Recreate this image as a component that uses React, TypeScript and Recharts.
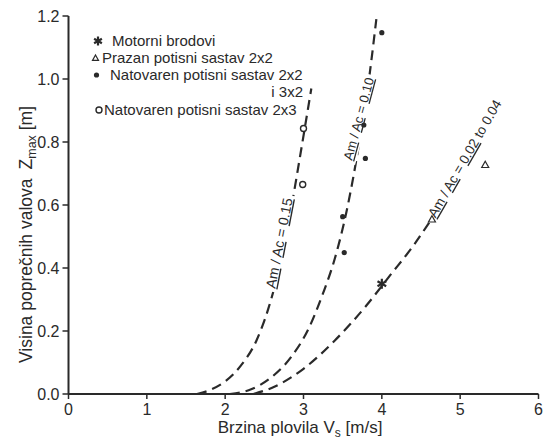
import { ComposedChart, Line, Scatter, XAxis, YAxis, Legend } from "recharts";

const ink = "#2a2a2a";
const font = "'Liberation Sans', Arial, Helvetica, sans-serif";

const xTicks = [0, 1, 2, 3, 4, 5, 6];
const yTicks = [0, 0.2, 0.4, 0.6, 0.8, 1.0, 1.2];

// dashed trend curves (Am/Ac)
const curve015 = [
	{ x: 1.64, y: 0 },
	{ x: 1.8, y: 0.012 },
	{ x: 2.0, y: 0.04 },
	{ x: 2.2, y: 0.09 },
	{ x: 2.4, y: 0.17 },
	{ x: 2.55, y: 0.27 },
	{ x: 2.7, y: 0.41 },
	{ x: 2.85, y: 0.6 },
	{ x: 2.98, y: 0.79 },
	{ x: 3.1, y: 0.97 },
];
const curve010 = [
	{ x: 2.06, y: 0 },
	{ x: 2.3, y: 0.012 },
	{ x: 2.6, y: 0.055 },
	{ x: 2.85, y: 0.12 },
	{ x: 3.05, y: 0.2 },
	{ x: 3.25, y: 0.32 },
	{ x: 3.4, y: 0.43 },
	{ x: 3.55, y: 0.58 },
	{ x: 3.7, y: 0.78 },
	{ x: 3.82, y: 0.97 },
	{ x: 3.93, y: 1.19 },
];
const curve002 = [
	{ x: 2.36, y: 0 },
	{ x: 2.6, y: 0.02 },
	{ x: 3.0, y: 0.08 },
	{ x: 3.4, y: 0.17 },
	{ x: 3.8, y: 0.28 },
	{ x: 4.1, y: 0.375 },
	{ x: 4.4, y: 0.47 },
	{ x: 4.62, y: 0.55 },
];

// measured points
const motorni = [{ x: 4.0, y: 0.35 }];
const prazan2x2 = [
	{ x: 4.64, y: 0.555 },
	{ x: 5.32, y: 0.728 },
];
const natovaren2x2 = [
	{ x: 4.0, y: 1.147 },
	{ x: 3.77, y: 0.854 },
	{ x: 3.79, y: 0.748 },
	{ x: 3.5, y: 0.563 },
	{ x: 3.52, y: 0.449 },
];
const natovaren2x3 = [
	{ x: 3.0, y: 0.843 },
	{ x: 2.99, y: 0.665 },
];

const curveLabels = [
	{ x: 2.75, y: 0.476, angle: -79, value: "0.15", size: 14 },
	{ x: 3.76, y: 0.87, angle: -75, value: "0.10", size: 13 },
	{ x: 5.11, y: 0.74, angle: -60, value: "0.02 to 0.04", size: 13.5 },
];

const legendNames = ["Motorni brodovi", "Prazan potisni sastav 2x2", "Natovaren potisni sastav 2x2", "i 3x2", "Natovaren potisni sastav 2x3"];

function Asterisk({ cx, cy, r = 5 }: { cx: number; cy: number; r?: number }) {
	const arms = [90, 30, 150].map((a) => {
		const rad = (a * Math.PI) / 180;
		return { dx: Math.cos(rad) * r, dy: Math.sin(rad) * r };
	});
	return (
		<g stroke={ink} strokeWidth={2.2}>
			{arms.map((d, i) => (
				<line key={i} x1={cx - d.dx} y1={cy - d.dy} x2={cx + d.dx} y2={cy + d.dy} />
			))}
		</g>
	);
}

function Triangle({ cx, cy, s = 3.5 }: { cx: number; cy: number; s?: number }) {
	return <polygon points={`${cx},${cy - s} ${cx + s},${cy + s * 0.8} ${cx - s},${cy + s * 0.8}`} fill="#fff" stroke={ink} strokeWidth={1.2} />;
}

function Dot({ cx, cy }: { cx: number; cy: number }) {
	return <circle cx={cx} cy={cy} r={2.6} fill={ink} />;
}

function Ring({ cx, cy }: { cx: number; cy: number }) {
	return <circle cx={cx} cy={cy} r={3} fill="#fff" stroke={ink} strokeWidth={1.4} />;
}

function CurveLabel(props: any) {
	const { cx, cy, payload } = props;
	const text = "Am / Ac = " + payload.value;
	const w = text.length * payload.size * 0.48;
	const parts = payload.value.split(" ");
	return (
		<g transform={`translate(${cx},${cy}) rotate(${payload.angle})`}>
			<rect x={-w / 2 - 2} y={-payload.size * 0.85} width={w + 4} height={payload.size * 0.85 + 4} fill="#fff" />
			<text x={0} y={0} textAnchor="middle" fontSize={payload.size} fill={ink} fontFamily={font}>
				<tspan textDecoration="underline">Am</tspan>
				{" / "}
				<tspan textDecoration="underline">Ac</tspan>
				{" = "}
				<tspan textDecoration="underline">{parts[0]}</tspan>
				{parts.length > 1 ? " " + parts.slice(1).join(" ") : ""}
			</text>
		</g>
	);
}

function LegendBox() {
	const t = { fontSize: 15, fill: ink, fontFamily: font };
	return (
		<svg width={240} height={100} style={{ overflow: "visible" }}>
			<Asterisk cx={13} cy={13} r={4.5} />
			<text x={27} y={18} {...t}>{legendNames[0]}</text>
			<Triangle cx={10.5} cy={30} s={3} />
			<text x={17} y={35} {...t}>{legendNames[1]}</text>
			<Dot cx={11.5} cy={47} />
			<text x={25} y={52} {...t}>{legendNames[2]}</text>
			<text x={218} y={69} textAnchor="end" {...t}>{legendNames[3]}</text>
			<Ring cx={14} cy={82} />
			<text x={19} y={87} {...t}>{legendNames[4]}</text>
		</svg>
	);
}

const renderXTitle = () => (
	<text x={300} y={433} textAnchor="middle" fontSize={17} fill={ink} fontFamily={font}>
		Brzina plovila V
		<tspan dy={4} fontSize={12}>s</tspan>
		<tspan dy={-4}> [m/s]</tspan>
	</text>
);

const renderYTitle = () => (
	<text transform="translate(32,363) rotate(-90)" fontSize={17.5} fill={ink} fontFamily={font}>
		Visina poprečnih valova
		<tspan dx={9}>Z</tspan>
		<tspan dy={4} fontSize={12.5}>max</tspan>
		<tspan dy={-4}> [m]</tspan>
	</text>
);

export default function App() {
	const tick = { fontSize: 16, fill: ink, fontFamily: font };
	const dash = { stroke: ink, strokeWidth: 2.2, strokeDasharray: "10 6", dot: false, type: "monotone" as const, isAnimationActive: false };
	return (
		<div style={{ position: "absolute", left: 0, top: 0, width: 544, height: 442, background: "#fff" }}>
			<ComposedChart width={544} height={442} margin={{ top: 16, right: 5.5, bottom: 18, left: 8.5 }}>
				<XAxis
					type="number"
					dataKey="x"
					domain={[0, 6]}
					ticks={xTicks}
					tickSize={5}
					tickMargin={5}
					tick={tick}
					axisLine={{ stroke: ink, strokeWidth: 2 }}
					tickLine={{ stroke: ink, strokeWidth: 1.5 }}
					label={{ content: renderXTitle }}
				/>
				<YAxis
					type="number"
					dataKey="y"
					width={60}
					domain={[0, 1.2]}
					ticks={yTicks}
					tickFormatter={(v: number) => v.toFixed(1)}
					tickSize={6}
					tickMargin={3}
					tick={tick}
					axisLine={{ stroke: ink, strokeWidth: 2 }}
					tickLine={{ stroke: ink, strokeWidth: 1.5 }}
					label={{ content: renderYTitle }}
				/>
				<Line data={curve015} dataKey="y" {...dash} />
				<Line data={curve010} dataKey="y" {...dash} />
				<Line data={curve002} dataKey="y" {...dash} />
				<Scatter data={curveLabels} dataKey="y" shape={CurveLabel} isAnimationActive={false} />
				<Scatter data={motorni} dataKey="y" shape={(p: any) => <Asterisk cx={p.cx} cy={p.cy} />} isAnimationActive={false} />
				<Scatter data={prazan2x2} dataKey="y" shape={(p: any) => <Triangle cx={p.cx} cy={p.cy} />} isAnimationActive={false} />
				<Scatter data={natovaren2x2} dataKey="y" shape={(p: any) => <Dot cx={p.cx} cy={p.cy} />} isAnimationActive={false} />
				<Scatter data={natovaren2x3} dataKey="y" shape={(p: any) => <Ring cx={p.cx} cy={p.cy} />} isAnimationActive={false} />
				<Legend
					layout="vertical"
					align="center"
					verticalAlign="middle"
					content={() => <LegendBox />}
					wrapperStyle={{ left: 85, top: 28, width: 240, height: 100 }}
				/>
			</ComposedChart>
		</div>
	);
}
